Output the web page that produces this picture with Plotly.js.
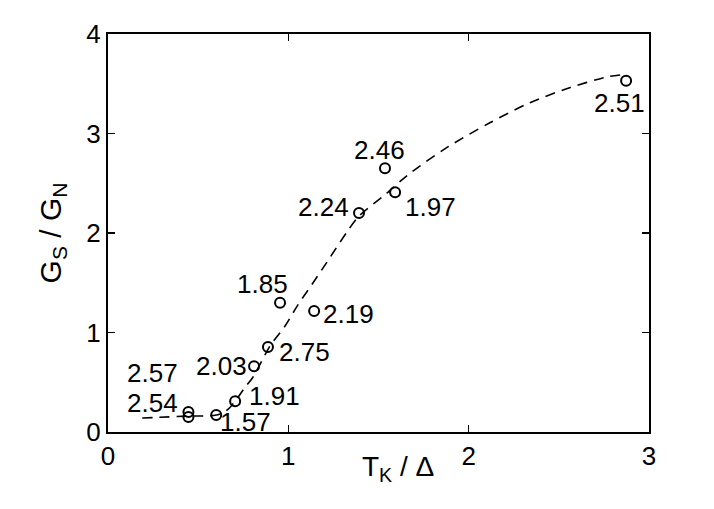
<!DOCTYPE html>
<html>
<head>
<meta charset="utf-8">
<script src="https://cdn.plot.ly/plotly-3.0.1.min.js"></script>
<style>html,body{margin:0;padding:0;background:#fff;}#chart{width:714px;height:509px;}</style>
</head>
<body>
<div id="chart"></div>
<script>
// Data points: T_K/Δ vs G_S/G_N, each labelled with a value
const pointX = [0.446, 0.446, 0.60, 0.705, 0.81, 0.887, 0.954, 1.143, 1.392, 1.536, 1.592, 2.873];
const pointY = [0.20, 0.15, 0.17, 0.31, 0.66, 0.854, 1.30, 1.216, 2.20, 2.65, 2.41, 3.53];
const pointLabels = ["2.57", "2.54", "1.57", "1.91", "2.03", "2.75", "1.85", "2.19", "2.24", "2.46", "1.97", "2.51"];

// Dashed guide curve
const curveX = [0.19, 0.44, 0.60, 0.66, 0.705, 0.76, 0.80, 0.90, 0.98, 1.054, 1.13, 1.215, 1.325, 1.392, 1.546, 1.66, 1.88, 2.12, 2.34, 2.56, 2.77, 2.85];
const curveY = [0.14, 0.16, 0.17, 0.22, 0.31, 0.45, 0.54, 0.87, 1.06, 1.28, 1.48, 1.71, 2.01, 2.17, 2.40, 2.58, 2.86, 3.11, 3.31, 3.46, 3.57, 3.59];

const xTicks = [0, 1, 2, 3];
const yTicks = [0, 1, 2, 3, 4];

// label offsets in pixels (layout only)
const labelShift = [[-36, 39], [-36, 14], [29, -7], [39, 5], [-33, 0], [37, -5], [-18, 19], [34, -3], [-36, 6], [-5, 18], [35, -15], [-7, -22]];

const font = "Liberation Sans, Arial, Helvetica, sans-serif";

const traces = [
  {
    x: curveX, y: curveY, mode: "lines", type: "scatter",
    line: {color: "#000", width: 1.6, dash: "10px,7px", shape: "spline", smoothing: 0.8},
    hoverinfo: "skip", showlegend: false
  },
  {
    x: pointX, y: pointY, mode: "markers", type: "scatter",
    marker: {symbol: "circle-open", size: 10, color: "#000", line: {width: 2, color: "#000"}},
    showlegend: false
  }
];

const annotations = pointLabels.map((t, i) => ({
  x: pointX[i], y: pointY[i], xref: "x", yref: "y",
  text: t, showarrow: false,
  xshift: labelShift[i][0], yshift: labelShift[i][1],
  font: {family: font, size: 26, color: "#000"}
}));

// x-axis title placed between the tick labels, as in the reference
annotations.push({
  xref: "paper", yref: "paper", x: 0.536, y: 0, yshift: -36,
  xanchor: "center", yanchor: "middle", showarrow: false,
  text: "T<sub>K</sub> / Δ",
  font: {family: font, size: 28, color: "#000"}
});

const axisCommon = {
  showgrid: false, zeroline: false, showline: true, linecolor: "#000", linewidth: 2,
  mirror: "ticks", ticks: "inside", ticklen: 7, tickwidth: 1.5, tickcolor: "#000",
  tickfont: {family: font, size: 26, color: "#000"}
};

const layout = {
  width: 714, height: 509,
  margin: {l: 108, r: 65, t: 34, b: 77},
  paper_bgcolor: "#fff", plot_bgcolor: "#fff",
  showlegend: false,
  xaxis: Object.assign({}, axisCommon, {
    range: [0, 3], tickvals: xTicks, ticktext: xTicks.map(String)
  }),
  yaxis: Object.assign({}, axisCommon, {
    range: [0, 4], tickvals: yTicks, ticktext: yTicks.map(String),
    title: {text: "G<sub>S</sub> / G<sub>N</sub>", font: {family: font, size: 30, color: "#000"}, standoff: 16}
  }),
  annotations: annotations
};

Plotly.newPlot("chart", traces, layout, {displayModeBar: false, staticPlot: true});
</script>
</body>
</html>
